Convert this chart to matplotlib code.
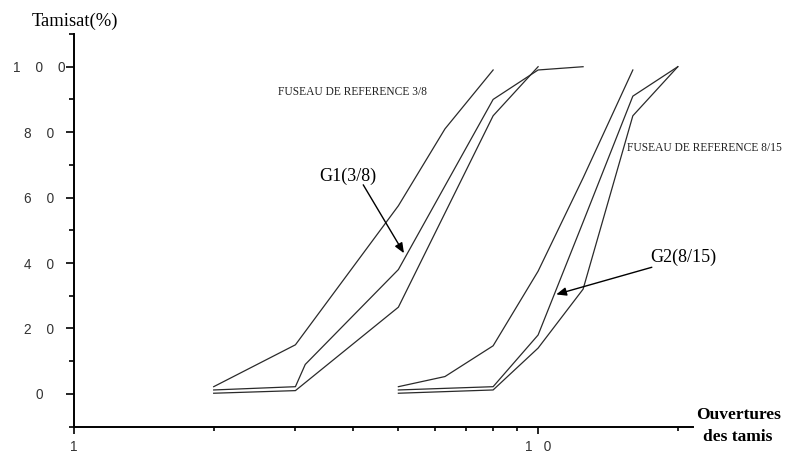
import matplotlib
matplotlib.use("Agg")
import matplotlib.pyplot as plt
from matplotlib.ticker import FixedLocator, FuncFormatter, LogLocator, NullFormatter

# ---------------- sieve curves (opening in mm, passing %) ----------------
fus38_sup_x = [2, 3, 5, 6.3, 8]
fus38_sup_y = [2.2, 15, 57.5, 81, 99]
g1_x = [2, 3, 3.15, 5, 8, 10, 12.5]
g1_y = [1.2, 2.2, 9, 38, 90, 99, 100]
fus38_inf_x = [2, 3, 5, 8, 10]
fus38_inf_y = [0.2, 1.0, 26.5, 85, 100]

fus815_sup_x = [5, 6.3, 8, 10, 12.5, 16]
fus815_sup_y = [2.2, 5.3, 14.7, 37.5, 66, 99]
g2_x = [5, 8, 10, 12.5, 16, 20]
g2_y = [1.2, 2.2, 18, 52.5, 91, 100]
fus815_inf_x = [5, 8, 10, 12.5, 16, 20]
fus815_inf_y = [0.2, 1.2, 14, 32, 85, 100]

y_major = [0, 20, 40, 60, 80, 100]
y_minor = [-10, 10, 30, 50, 70, 90, 110]

serif = "Liberation Serif"
sans = "Liberation Sans"

fig = plt.figure(figsize=(7.86, 4.55), dpi=100)
ax = fig.add_axes([0.0941, 0.0624, 0.788, 0.8629])

curves = [(fus38_sup_x, fus38_sup_y), (g1_x, g1_y), (fus38_inf_x, fus38_inf_y),
          (fus815_sup_x, fus815_sup_y), (g2_x, g2_y), (fus815_inf_x, fus815_inf_y)]
for cx, cy in curves:
    ax.plot(cx, cy, color="#2a2a2a", lw=0.9, clip_on=False)

ax.set_xscale("log")
ax.set_xlim(1, 21.6)
ax.set_ylim(-10, 110)

for s in ["top", "right"]:
    ax.spines[s].set_visible(False)
for s in ["left", "bottom"]:
    ax.spines[s].set_linewidth(1.4)

# x axis ticks
ax.xaxis.set_major_locator(FixedLocator([1, 10]))
ax.xaxis.set_major_formatter(FuncFormatter(lambda v, p: "   ".join(str(int(round(v))))))
ax.xaxis.set_minor_locator(LogLocator(base=10, subs=range(2, 10)))
ax.xaxis.set_minor_formatter(NullFormatter())
ax.tick_params(axis="x", which="major", length=5, width=1.2, pad=5, labelsize=9.8,
               labelcolor="#333")
ax.tick_params(axis="x", which="minor", length=3, width=1.2)

# y axis ticks
ax.yaxis.set_major_locator(FixedLocator(y_major))
ax.yaxis.set_minor_locator(FixedLocator(y_minor))
ax.yaxis.set_major_formatter(FuncFormatter(lambda v, p: "    ".join(str(int(v)))))
ax.tick_params(axis="y", which="major", length=6, width=1.2, pad=19, labelsize=9.8,
               labelcolor="#333")
ax.tick_params(axis="y", which="minor", length=3.5, width=1.2)
for lab in ax.get_yticklabels():
    lab.set_horizontalalignment("center")
    lab.set_fontfamily(sans)
for lab in ax.get_xticklabels():
    lab.set_fontfamily(sans)

# annotations
ax.text(2.753, 92.4, "FUSEAU DE REFERENCE 3/8", family=serif, fontsize=8.3,
        ha="left", va="center", color="#222")
ax.text(15.55, 75.2, "FUSEAU DE REFERENCE 8/15", family=serif, fontsize=8.3,
        ha="left", va="center", color="#222", clip_on=False)
ax.text(3.37, 66.6, "G1(3/8)", family=serif, fontsize=13, ha="left", va="center")
ax.text(17.43, 41.8, "G2(8/15)", family=serif, fontsize=13, ha="left", va="center",
        clip_on=False)

arrow = dict(arrowstyle="-|>,head_length=0.6,head_width=0.25", color="black", lw=1.0,
             shrinkA=0, shrinkB=0)
ax.annotate("", xy=(5.14, 43.0), xytext=(4.2, 63.9), arrowprops=arrow)
ax.annotate("", xy=(10.94, 30.4), xytext=(17.58, 38.7), arrowprops=arrow,
            annotation_clip=False)

fig.text(0.0954, 0.954, "Tamisat(%)", family=serif, fontsize=13.4, ha="center", va="center")
fig.text(0.9396, 0.0879, "Ouvertures", family=serif, fontsize=12.5, fontweight="bold",
         ha="center", va="center")
fig.text(0.9383, 0.0396, "des tamis", family=serif, fontsize=12.5, fontweight="bold",
         ha="center", va="center")

fig.savefig("out.png", dpi=100)
